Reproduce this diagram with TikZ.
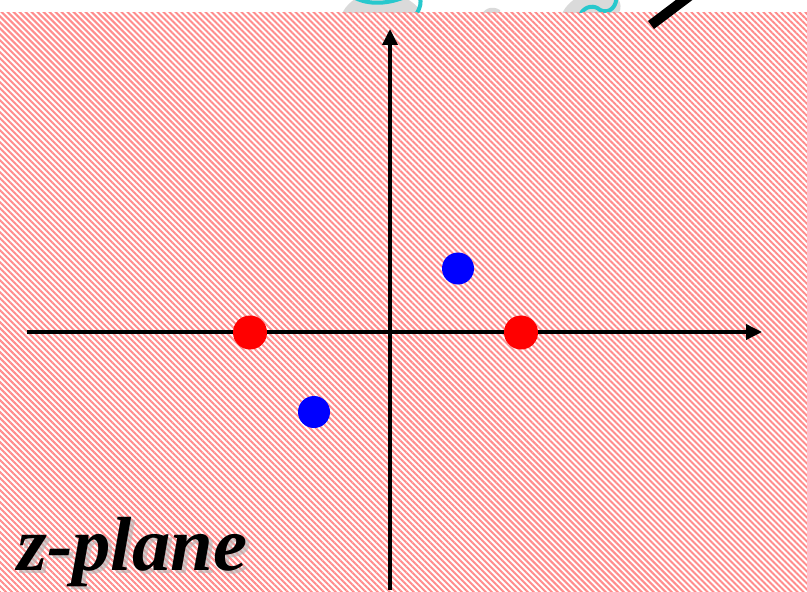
\documentclass[tikz,border=0pt]{standalone}
\usepackage{fontspec}
\setmainfont{Liberation Serif}
\usetikzlibrary{patterns.meta,arrows.meta}
\definecolor{hatch}{RGB}{255,140,140}
\definecolor{dotred}{RGB}{255,0,0}
\definecolor{dotblue}{RGB}{0,0,255}
\definecolor{blobgray}{RGB}{218,218,218}
\definecolor{swirl}{RGB}{40,200,205}
\tikzset{
  axis/.style={line width=3.5bp, -{Triangle[length=16bp,width=15bp]}},
  pole/.style={circle, fill=dotred, minimum size=34bp, inner sep=0pt},
  zero/.style={circle, fill=dotblue, minimum size=32bp, inner sep=0pt},
  plabel/.style={font=\bfseries\itshape\fontsize{77}{77}\selectfont, inner sep=0pt, anchor=base west},
}
\begin{document}
\begin{tikzpicture}[x=1bp,y=-1bp]
\useasboundingbox (0,0) rectangle (807,592);
% clipped decorations at the top
\begin{scope}
\clip (0,0) rectangle (807,13);
\fill[blobgray] (340,20) .. controls (345,-5) and (380,-15) .. (400,-5) .. controls (420,5) and (425,15) .. (420,20) -- cycle;
\draw[swirl, line width=4bp] (350,-5) .. controls (365,5) and (385,5) .. (405,-3);
\draw[swirl, line width=4bp] (415,-10) .. controls (425,0) and (420,10) .. (412,20);
\fill[blobgray] (480,20) .. controls (482,8) and (492,5) .. (500,10) -- (500,20) -- cycle;
\fill[blobgray] (560,20) .. controls (565,-5) and (600,-15) .. (615,-5) .. controls (625,5) and (620,15) .. (612,20) -- cycle;
\draw[swirl, line width=4bp] (580,15) .. controls (585,5) and (595,5) .. (600,10) .. controls (610,15) and (618,5) .. (616,-5);
\end{scope}
% hatched background
\fill[pattern={Lines[angle=-45,distance=4.24bp,line width=2bp]}, pattern color=hatch] (0,13) rectangle (807,592);
% thick black stroke at the top right
\draw[line width=10bp] (651,25) -- (700,-12);
% axes
\coordinate (xl) at (27,332);
\coordinate (xr) at (762,332);
\coordinate (yb) at (390,590);
\coordinate (yt) at (390,29);
\draw[axis] (xl) -- (xr);
\draw[axis] (yb) -- (yt);
% poles and zeros
\node[pole] (p1) at (250,332.5) {};
\node[pole] (p2) at (521,332.5) {};
\node[zero] (z1) at (458,268.5) {};
\node[zero] (z2) at (314,412) {};
% label with soft shadow
\node[plabel, text=black!30, opacity=0.6] (lblshadow) at (21,573) {z-plane};
\node[plabel] (lbl) at (17,570) {z-plane};
\end{tikzpicture}
\end{document}
